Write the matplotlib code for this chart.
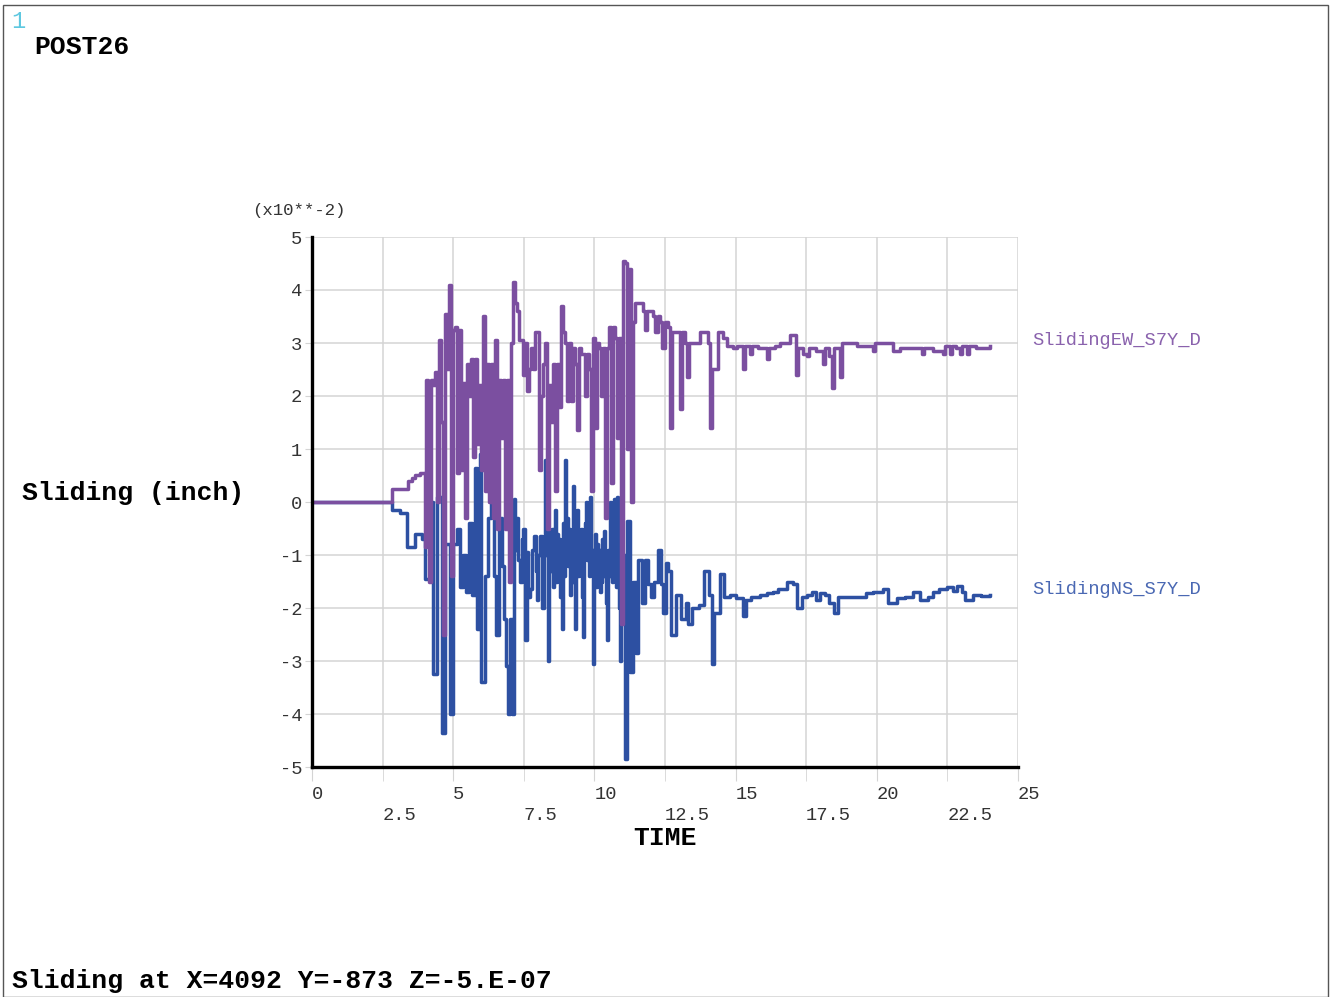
import matplotlib
matplotlib.use("Agg")
import matplotlib.pyplot as plt
from matplotlib.patches import Rectangle

# sliding values are in units of 1e-2 inch (axis shows x10**-2)
ew_time = [0.00, 2.83, 3.40, 3.55, 3.65, 3.82, 4.00, 4.05, 4.11, 4.16,
           4.22, 4.28, 4.36, 4.43, 4.50, 4.57, 4.64, 4.71, 4.78, 4.85,
           4.92, 4.99, 5.06, 5.13, 5.20, 5.27, 5.35, 5.42, 5.49, 5.56,
           5.63, 5.70, 5.77, 5.84, 5.91, 5.98, 6.06, 6.13, 6.20, 6.27,
           6.34, 6.41, 6.48, 6.55, 6.62, 6.69, 6.76, 6.83, 6.91, 6.97,
           7.04, 7.12, 7.19, 7.26, 7.33, 7.40, 7.47, 7.54, 7.61, 7.68,
           7.75, 7.83, 7.90, 7.97, 8.04, 8.11, 8.18, 8.25, 8.32, 8.40,
           8.47, 8.54, 8.61, 8.68, 8.75, 8.82, 8.89, 8.96, 9.03, 9.10,
           9.17, 9.24, 9.31, 9.38, 9.45, 9.52, 9.60, 9.67, 9.74, 9.81,
           9.88, 9.95, 10.02, 10.09, 10.16, 10.23, 10.30, 10.38, 10.45, 10.52,
           10.59, 10.66, 10.73, 10.80, 10.87, 10.95, 11.01, 11.08, 11.15, 11.22,
           11.30, 11.37, 11.44, 11.61, 11.72, 11.80, 11.86, 12.07, 12.15, 12.25,
           12.32, 12.39, 12.50, 12.61, 12.68, 12.75, 13.03, 13.10, 13.21, 13.28,
           13.35, 13.74, 14.02, 14.09, 14.16, 14.38, 14.55, 14.70,
           14.90, 15.05, 15.26, 15.33, 15.51, 15.58, 15.80, 16.11, 16.18, 16.40,
           16.57, 16.93, 17.14, 17.21, 17.40, 17.53, 17.60, 17.85, 18.09, 18.16,
           18.30, 18.41, 18.48, 18.70, 18.77, 19.30, 19.87, 19.94, 20.57, 20.82,
           21.20, 21.60, 21.67, 22.00, 22.34, 22.41, 22.59, 22.66, 22.80, 22.95,
           23.02, 23.19, 23.26, 23.50, 24.01]
ew_slide = [0.00, 0.25, 0.40, 0.45, 0.50, 0.55, -0.85, 2.30, 2.20, -1.50,
            2.30, 2.20, 2.45, 0.00, 3.05, 1.50, -2.50, 3.55, 2.50, 4.10,
            -1.40, 3.25, 3.30, 0.55, 3.25, 0.60, 2.25, -0.30, 2.60, 2.00,
            2.70, 0.85, 2.70, 1.10, 2.20, 0.60, 3.50, 0.20, 2.60, 0.00,
            2.60, -0.30, 3.05, -0.50, 2.30, 1.20, 2.30, -0.50, 2.30, -1.50,
            3.00, 4.15, 3.75, 3.60, 3.05, 3.05, 2.40, 3.00, 2.10, 2.50,
            2.90, 2.50, 3.20, 3.20, 0.60, 2.00, 2.60, 3.00, -0.50, 2.20,
            1.50, 2.60, 0.20, 2.60, 1.80, 3.70, 3.20, 3.00, 1.90, 3.00,
            1.90, 2.90, 2.60, 1.35, 2.90, 2.80, 2.80, 2.00, 2.80, 2.50,
            0.20, 3.10, 1.40, 3.00, 2.90, 2.00, 2.90, -0.30, 2.90, 3.30,
            0.35, 3.30, 3.10, 1.20, 3.10, -2.30, 4.55, 4.50, 1.00, 4.40,
            0.00, 3.40, 3.75, 3.75, 3.60, 3.25, 3.60, 3.50, 3.20, 3.50,
            3.40, 2.90, 3.40, 3.30, 1.40, 3.20, 1.75, 3.20, 3.00, 2.35,
            3.00, 3.20, 3.00, 1.40, 2.50, 3.20, 3.10, 2.95,
            2.90, 2.95, 2.50, 2.95, 2.80, 2.95, 2.90, 2.70, 2.90, 2.95,
            3.00, 3.15, 2.40, 2.90, 2.80, 2.75, 2.90, 2.85, 2.60, 2.90,
            2.75, 2.15, 2.90, 2.35, 3.00, 2.95, 2.85, 3.00, 2.85, 2.90,
            2.90, 2.80, 2.90, 2.85, 2.80, 2.95, 2.80, 2.95, 2.90, 2.80,
            2.95, 2.80, 2.95, 2.90, 2.95]

ns_time = [0.00, 2.83, 3.10, 3.36, 3.65, 3.90, 4.00, 4.18, 4.28, 4.43,
           4.60, 4.71, 4.89, 4.99, 5.13, 5.24, 5.35, 5.45, 5.56, 5.67,
           5.77, 5.84, 5.95, 5.98, 6.13, 6.23, 6.34, 6.44, 6.52, 6.62,
           6.73, 6.80, 6.87, 6.94, 7.01, 7.08, 7.15, 7.20, 7.26, 7.31,
           7.37, 7.42, 7.47, 7.54, 7.61, 7.66, 7.72, 7.79, 7.86, 7.92,
           7.97, 8.02, 8.07, 8.14, 8.20, 8.25, 8.29, 8.33, 8.36, 8.40,
           8.44, 8.47, 8.50, 8.54, 8.57, 8.60, 8.64, 8.68, 8.71, 8.75,
           8.78, 8.82, 8.85, 8.89, 8.92, 8.96, 9.00, 9.03, 9.07, 9.10,
           9.14, 9.17, 9.21, 9.24, 9.28, 9.31, 9.35, 9.38, 9.42, 9.45,
           9.49, 9.52, 9.56, 9.60, 9.63, 9.67, 9.70, 9.74, 9.77, 9.81,
           9.84, 9.88, 9.91, 9.95, 9.98, 10.02, 10.06, 10.09, 10.13, 10.16,
           10.20, 10.23, 10.27, 10.30, 10.34, 10.38, 10.41, 10.45, 10.48, 10.52,
           10.55, 10.59, 10.62, 10.66, 10.69, 10.73, 10.77, 10.80, 10.84, 10.87,
           10.91, 10.95, 10.98, 11.08, 11.15, 11.26, 11.37, 11.47, 11.54, 11.69,
           11.79, 11.90, 12.00, 12.11, 12.25, 12.36, 12.43, 12.54, 12.61, 12.71,
           12.89, 13.07, 13.24, 13.31, 13.46, 13.70, 13.88, 14.06, 14.16, 14.24,
           14.45, 14.59, 14.80, 15.00, 15.26, 15.37, 15.55, 15.86, 16.10, 16.32,
           16.50, 16.82, 17.05, 17.17, 17.35, 17.53, 17.70, 17.85, 18.00, 18.17,
           18.30, 18.48, 18.63, 19.20, 19.60, 19.87, 20.22, 20.40, 20.72, 21.00,
           21.28, 21.53, 21.80, 21.99, 22.20, 22.49, 22.70, 22.85, 23.00, 23.12,
           23.41, 23.70, 24.01]
ns_slide = [0.00, -0.15, -0.20, -0.85, -0.60, -0.70, -1.45, 0.00, -3.25, 0.10,
            -4.35, -0.80, -4.00, -0.80, -0.50, -1.60, -1.00, -1.70, -0.40, -1.75,
            0.65, -2.40, 0.90, -3.40, -1.40, -0.30, 0.20, -1.40, -2.50, -0.30,
            -1.20, -2.20, -3.10, -4.00, -2.20, -4.00, 0.05, -0.90, -0.30, -1.10,
            -1.50, -0.70, -0.50, -2.60, -0.95, -1.80, -1.65, -0.90, -0.65, -1.30,
            -1.85, -1.00, -0.65, -2.00, -0.90, 0.80, -1.00, -0.70, -3.00, -0.50,
            -1.30, -0.60, -0.50, -1.60, -0.80, -0.15, -1.50, -0.60, -1.20, -0.70,
            -1.80, -0.90, -2.40, -0.40, -1.40, 0.80, -1.00, -0.30, -1.20, -0.50,
            -1.75, -0.80, -1.50, 0.30, -1.20, -2.40, -0.60, -0.15, -1.40, -0.70,
            -1.00, -0.50, -1.80, -2.55, -1.00, -0.40, 0.00, -1.10, -0.60, -1.40,
            0.10, -1.30, -0.90, -3.05, -1.20, -0.60, -1.60, -0.80, -1.50, -0.90,
            -1.70, -1.50, -0.70, -1.40, -0.55, -1.20, -1.90, -2.60, -0.90, -1.40,
            0.00, -0.90, -1.50, -0.60, 0.05, -1.00, -1.60, 0.10, -1.20, -2.00,
            -3.00, -0.50, -1.00, -4.85, -0.35, -3.20, -1.50, -2.85, -1.10, -1.90,
            -1.10, -1.55, -1.80, -1.50, -0.90, -1.55, -2.10, -1.15, -1.30, -2.50,
            -1.75, -2.20, -1.90, -2.30, -2.00, -1.95, -1.30, -1.75, -3.05, -2.10,
            -1.35, -1.80, -1.75, -1.82, -2.15, -1.85, -1.80, -1.75, -1.72, -1.70,
            -1.65, -1.50, -1.55, -2.00, -1.80, -1.75, -1.70, -1.85, -1.72, -1.75,
            -1.90, -2.10, -1.80, -1.80, -1.72, -1.70, -1.65, -1.90, -1.82, -1.80,
            -1.70, -1.85, -1.80, -1.70, -1.65, -1.60, -1.68, -1.58, -1.70, -1.85,
            -1.75, -1.78, -1.75]

major_x = [0, 5, 10, 15, 20, 25]
minor_x = [2.5, 7.5, 12.5, 17.5, 22.5]
y_ticks = [5, 4, 3, 2, 1, 0, -1, -2, -3, -4, -5]

ew_label = "SlidingEW_S7Y_D"
ns_label = "SlidingNS_S7Y_D"

assert len(ew_time) == len(ew_slide)
assert len(ns_time) == len(ns_slide)

plt.rcParams['font.family'] = ['Liberation Mono', 'DejaVu Sans']

ew_color = '#7b4fa0'
ns_color = '#2d50a2'

fig = plt.figure(figsize=(13.31, 9.97), dpi=100)
ax = fig.add_axes([312 / 1331, 1 - 767 / 997, 706 / 1331, 530 / 997])

ax.plot(ns_time, ns_slide, drawstyle='steps-post', color=ns_color, lw=2.5)
ax.plot(ew_time, ew_slide, drawstyle='steps-post', color=ew_color, lw=2.5)

ax.set_xlim(0, 25)
ax.set_ylim(-5, 5)

ax.set_xticks(major_x)
ax.set_xticklabels([str(v) for v in major_x])
ax.set_xticks(minor_x, minor=True)
ax.set_xticklabels([str(v) for v in minor_x], minor=True)
ax.set_yticks(y_ticks)
ax.set_yticklabels([str(v) for v in y_ticks])
for lab in ax.get_xticklabels(which='both'):
    lab.set_ha('left')

ax.grid(which='both', color='#d4d4d4', lw=1.1)
ax.set_axisbelow(True)
ax.tick_params(axis='x', which='major', length=10, color='#d4d4d4', pad=4,
               labelsize=13.5, labelcolor='#333333')
ax.tick_params(axis='x', which='minor', length=10, color='#d4d4d4', pad=19,
               labelsize=13.5, labelcolor='#333333')
ax.tick_params(axis='y', length=5, color='#d4d4d4', pad=2,
               labelsize=13.5, labelcolor='#333333')

for s in ['top', 'right']:
    ax.spines[s].set_visible(False)
for s in ['left', 'bottom']:
    ax.spines[s].set_linewidth(2.4)
    ax.spines[s].set_color('black')

# series names at the right end of each curve
ax.text(25.5, 3.05, ew_label, color='#8a62ad', fontsize=13.5, va='center',
        clip_on=False)
ax.text(25.5, -1.65, ns_label, color='#4a68b3', fontsize=13.5, va='center',
        clip_on=False)

fig.text(252 / 1331, 1 - 210 / 997, "(x10**-2)", fontsize=12.5,
         color='#333333', va='center')
fig.text(22 / 1331, 1 - 493 / 997, "Sliding (inch)", fontsize=19,
         fontweight='bold', va='center')
fig.text(665 / 1331, 1 - 838 / 997, "TIME", fontsize=19, fontweight='bold',
         ha='center', va='center')
fig.text(34 / 1331, 1 - 47 / 997, "POST26", fontsize=19, fontweight='bold',
         va='center')
fig.text(11 / 1331, 1 - 21 / 997, "1", fontsize=17, color='#5fc8e0',
         va='center')
fig.text(12 / 1331, 1 - 981 / 997, "Sliding at X=4092 Y=-873 Z=-5.E-07",
         fontsize=19, fontweight='bold', va='center')

fig.add_artist(Rectangle((3 / 1331, 0), 1325 / 1331, 1 - 5 / 997,
                         transform=fig.transFigure, fill=False,
                         ec='#555555', lw=1))

fig.savefig('out.png', dpi=100)
